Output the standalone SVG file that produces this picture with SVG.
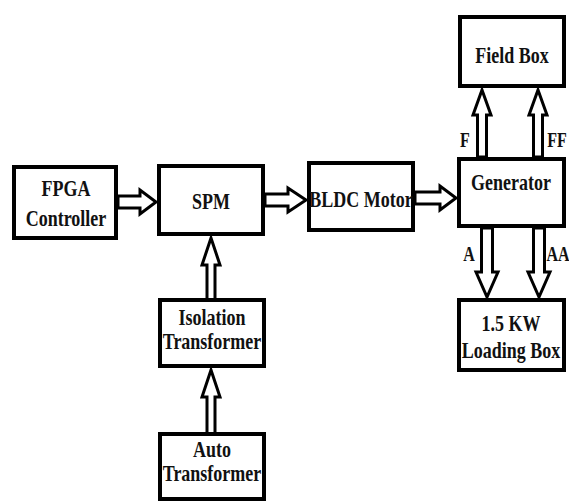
<svg xmlns="http://www.w3.org/2000/svg" width="569" height="502" viewBox="0 0 569 502">
<style>
.box{fill:#fff;stroke:#000;stroke-width:4}
.arr{fill:#fff;stroke:#000;stroke-width:3;stroke-linejoin:miter}
text{font-family:'Liberation Serif','Times New Roman',Times,serif;font-weight:700;text-anchor:middle;fill:#111}
.t{font-size:18px}
.l{font-size:16px}
</style>
<rect width="569" height="502" fill="#fff"/>
<g id="connectors">
<polygon class="arr" points="118,196 140,196 140,190 156,202 140,214 140,208 118,208"/>
<polygon class="arr" points="265,194 288,194 288,188 306,200 288,212 288,206 265,206"/>
<polygon class="arr" points="415,192 440,192 440,186 456,198 440,210 440,204 415,204"/>
<polygon class="arr" points="477.5,157 477.5,115 473,115 482,90 491,115 486.5,115 486.5,157"/>
<polygon class="arr" points="533.5,157 533.5,115 529,115 538,90 547,115 542.5,115 542.5,157"/>
<polygon class="arr" points="481.5,228 481.5,272 476,272 487,297 498,272 492.5,272 492.5,228"/>
<polygon class="arr" points="533.5,228 533.5,272 528,272 539,297 550,272 544.5,272 544.5,228"/>
<polygon class="arr" points="207,300 207,265 202,265 211,238 220,265 215,265 215,300"/>
<polygon class="arr" points="207,434 207,397 202,397 211,370 220,397 215,397 215,434"/>
<g transform="translate(465,147) scale(1,1.3)"><text class="l">F</text></g>
<g transform="translate(557,147) scale(1,1.3)"><text class="l">FF</text></g>
<g transform="translate(469,261) scale(1,1.3)"><text class="l">A</text></g>
<g transform="translate(558,261) scale(1,1.3)"><text class="l">AA</text></g>
</g>
<g id="fpga">
<rect class="box" x="14" y="167" width="102" height="71"/>
<g transform="translate(66,196) scale(1,1.25)"><text class="t">FPGA</text></g>
<g transform="translate(66,226) scale(1,1.25)"><text class="t">Controller</text></g>
</g>
<g id="spm">
<rect class="box" x="159" y="166" width="104" height="68"/>
<g transform="translate(211,209) scale(1,1.25)"><text class="t">SPM</text></g>
</g>
<g id="bldc">
<rect class="box" x="309" y="163" width="104" height="67"/>
<g transform="translate(361,207) scale(1,1.25)"><text class="t">BLDC Motor</text></g>
</g>
<g id="generator">
<rect class="box" x="459" y="159" width="105" height="67"/>
<g transform="translate(511,190) scale(1,1.25)"><text class="t">Generator</text></g>
</g>
<g id="fieldbox">
<rect class="box" x="460" y="17" width="104" height="69"/>
<g transform="translate(512,63) scale(1,1.25)"><text class="t">Field Box</text></g>
</g>
<g id="loadingbox">
<rect class="box" x="459" y="300" width="105" height="70"/>
<g transform="translate(511,331) scale(1,1.25)"><text class="t">1.5 KW</text></g>
<g transform="translate(511,358) scale(1,1.25)"><text class="t">Loading Box</text></g>
</g>
<g id="isolation">
<rect class="box" x="160" y="300" width="104" height="66"/>
<g transform="translate(212,325) scale(1,1.25)"><text class="t">Isolation</text></g>
<g transform="translate(212,349) scale(1,1.25)"><text class="t">Transformer</text></g>
</g>
<g id="auto">
<rect class="box" x="160" y="434" width="104" height="65"/>
<g transform="translate(212,457) scale(1,1.25)"><text class="t">Auto</text></g>
<g transform="translate(212,481) scale(1,1.25)"><text class="t">Transformer</text></g>
</g>
</svg>
